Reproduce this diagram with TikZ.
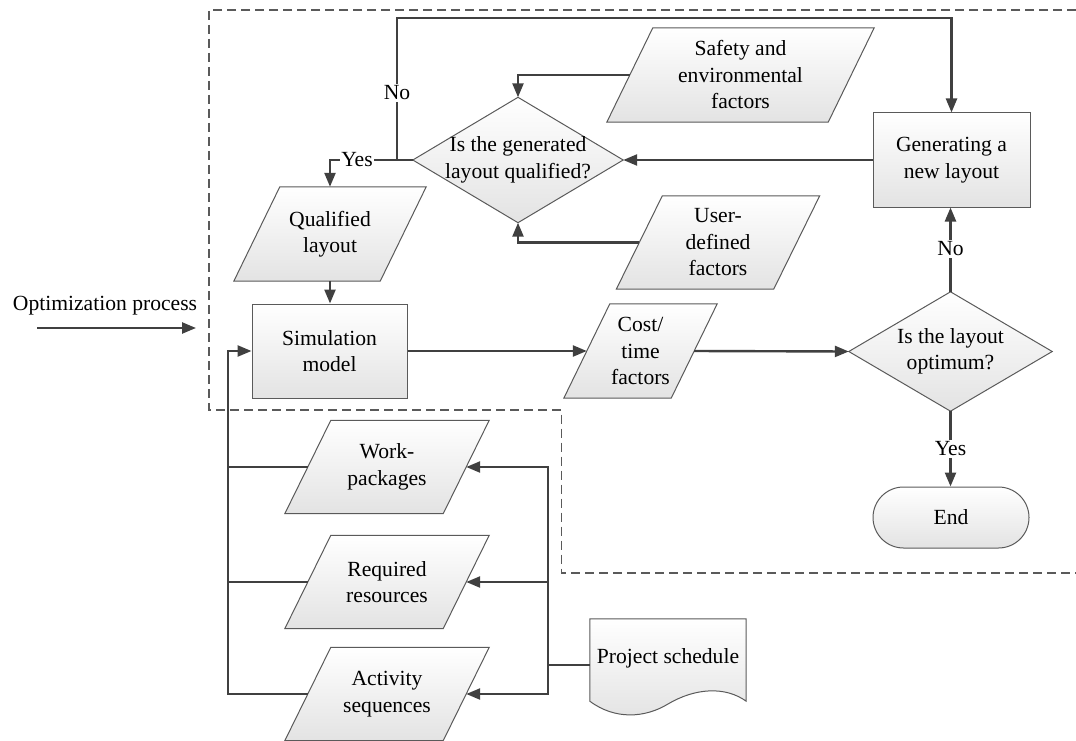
\documentclass[tikz,border=0pt]{standalone}
\usepackage{fontspec}
\setmainfont{Liberation Serif}
\usetikzlibrary{arrows.meta,calc}
\pgfdeclarelayer{bg}\pgfsetlayers{bg,main}
\definecolor{lc}{HTML}{404040}
\definecolor{sc}{HTML}{5A5A5A}
\tikzset{
  every node/.style={font=\fontsize{21.6}{26.5}\selectfont, align=center, inner sep=0pt},
  shp/.style={draw=sc, line width=1pt, top color=white, bottom color=black!11},
  conn/.style={draw=lc, line width=2.4pt},
  arr/.style={conn, -{Triangle[length=14pt,width=11pt]}},
  lbl/.style={fill=white, inner sep=1.5pt},
  dashbox/.style={draw=sc, line width=1.3pt, dash pattern=on 9pt off 5pt},
}
\newcommand\drawpara[1]{\begin{pgfonlayer}{bg}\path[shp] ([xshift=-23pt]#1.south west) -- ([xshift=-23pt]#1.south east) -- ([xshift=23pt]#1.north east) -- ([xshift=23pt]#1.north west) -- cycle;\end{pgfonlayer}}
\newcommand\drawdiam[1]{\begin{pgfonlayer}{bg}\path[shp] (#1.west) -- (#1.north) -- (#1.east) -- (#1.south) -- cycle;\end{pgfonlayer}}
\begin{document}
\begin{tikzpicture}[x=1pt,y=-1pt]
\useasboundingbox (0,0) rectangle (1076,741);
% dashed region
\draw[dashbox] (1076,10) -- (209,10) -- (209,410) -- (561.5,410) -- (561.5,573) -- (1076,573);
% nodes
\node[minimum width=146pt, minimum height=94pt] (qual) at (330,234) {Qualified\\layout};
\drawpara{qual}
\node[minimum width=221pt, minimum height=94pt] (safety) at (740.5,75) {Safety and\\environmental\\factors};
\drawpara{safety}
\node[minimum width=157pt, minimum height=93pt] (user) at (718,242.5) {User-\\defined\\factors};
\drawpara{user}
\node[minimum width=107pt, minimum height=94pt] (cost) at (640.5,351) {Cost/\\time\\factors};
\drawpara{cost}
\node[minimum width=158pt, minimum height=93pt] (wp) at (387,467) {Work-\\packages};
\drawpara{wp}
\node[minimum width=158pt, minimum height=93pt] (req) at (387,582) {Required\\resources};
\drawpara{req}
\node[minimum width=158pt, minimum height=93pt] (act) at (387,694) {Activity\\sequences};
\drawpara{act}
\node[shp, minimum width=155pt, minimum height=94pt] (sim) at (329.5,351) {Simulation\\model};
\node[shp, minimum width=157pt, minimum height=94pt] (gen) at (951.5,160) {Generating a\\new layout};
\node[minimum width=210pt, minimum height=125pt] (d1) at (518,160) {Is the generated\\layout qualified?};
\drawdiam{d1}
\node[minimum width=203pt, minimum height=119pt] (d2) at (950.5,351.5) {Is the layout\\optimum?};
\drawdiam{d2}
\node[shp, rounded corners=30.5pt, minimum width=156pt, minimum height=61pt] (end) at (951,517.5) {End};
\node[minimum width=156pt, minimum height=82pt] (doc) at (668,660) {\raisebox{7pt}{Project schedule}};
\begin{pgfonlayer}{bg}
\path[shp] (doc.south west) -- (doc.north west) -- (doc.north east) -- (doc.south east)
  .. controls (725,686) and (695,688) .. (668,704)
  .. controls (645,718) and (615,720) .. (doc.south west) -- cycle;
\end{pgfonlayer}
\node (opt) at (105,306) {Optimization process};
\coordinate (oa) at (37,328);
\coordinate (ob) at (196,328);
\draw[arr] (oa) -- (ob);
% junctions
\coordinate (j1) at (397,160);
\coordinate (lb) at (228,351);
\coordinate (rb) at (548,665);
% connectors
\draw[arr] (d1.west) -| (qual.north);
\node[lbl] (yes1) at (357,160) {Yes};
\draw[arr] (j1) -- ++(0,-142) -| (gen.north);
\node[lbl] (no1) at (397,93) {No};
\draw[arr] (safety.west) -| (d1.north);
\draw[arr] (user.west) -| (d1.south);
\draw[arr] (gen.west) -- (d1.east);
\draw[arr] (qual.south) -- (qual.south |- sim.north);
\draw[arr] (sim.east) -- (cost.west);
\draw[arr] (cost.east) -- (d2.west);
\draw[arr] (d2.north) -- (d2.north |- gen.south);
\node[lbl] (no2) at (950.5,249) {No};
\draw[arr] (d2.south) -- (d2.south |- end.north);
\node[lbl] (yes2) at (950.5,449) {Yes};
\draw[arr] (act.west) -| (lb) -- (sim.west);
\draw[conn] (wp.west) -- (wp.west -| lb);
\draw[conn] (req.west) -- (req.west -| lb);
\draw[conn] ([yshift=-5pt]doc.west) -- (rb);
\draw[arr] (rb) |- (wp.east);
\draw[arr] (rb) |- (req.east);
\draw[arr] (rb) |- (act.east);
\end{tikzpicture}
\end{document}
